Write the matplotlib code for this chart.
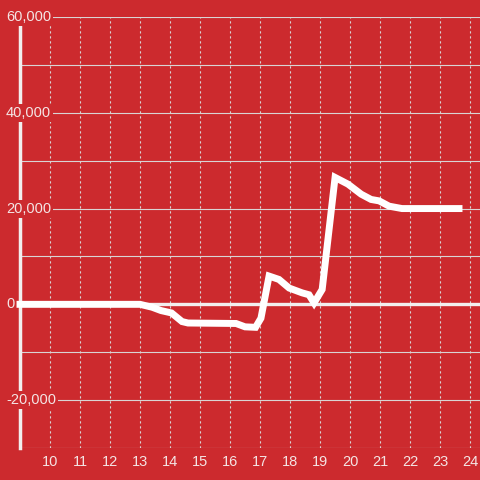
import matplotlib.pyplot as plt

# valeurs
hours = [9.0, 13.0, 13.4, 13.7, 14.05, 14.4, 14.6, 16.2, 16.5, 16.85, 17.03,
         17.3, 17.63, 17.97, 18.4, 18.63, 18.8, 19.07, 19.5, 19.93, 20.37,
         20.7, 20.97, 21.3, 21.73, 23.63]
values = [0, 0, -600, -1300, -1800, -3600, -3900, -4000, -4700, -4800, -2900,
          5900, 5200, 3400, 2400, 2000, 300, 3100, 26500, 25100, 23000,
          21900, 21600, 20500, 20000, 20000]

x_ticks = list(range(10, 25))
y_labels = [60000, 40000, 20000, 0, -20000]
y_grid = list(range(-30000, 60001, 10000))

bg = "#cc2a2e"
txt = "#f4e4e4"
grid = "#d9d4d4"

plt.rcParams["font.family"] = ["Liberation Sans", "DejaVu Sans"]

fig = plt.figure(figsize=(4.8, 4.8), dpi=100, facecolor=bg)
ax = fig.add_axes([20 / 480, 32 / 480, 460 / 480, 431 / 480])
ax.set_facecolor(bg)
ax.set_xlim(9, 24.33)
ax.set_ylim(-30000, 60000)

for v in y_grid:
    ax.axhline(v, color=grid, lw=0.8, zorder=1)
for v in x_ticks:
    ax.axvline(v, color=grid, lw=0.8, ls=(0, (2, 2.5)), zorder=1)
ax.axhline(0, color="#f2eeee", lw=2.4, zorder=2)

for s in ["top", "right", "bottom"]:
    ax.spines[s].set_visible(False)
ax.spines["left"].set_color("#f2eeee")
ax.spines["left"].set_linewidth(2.5)
ax.spines["left"].set_zorder(4)

ax.set_yticks([])
ax.set_xticks(x_ticks)
ax.set_xticklabels([str(t) for t in x_ticks])
ax.tick_params(axis="x", length=0, pad=5, colors=txt, labelsize=10.5)

tr = ax.get_yaxis_transform()
for v in y_labels:
    ax.text(-14 / 460, v, f"{v:,}", transform=tr, ha="left", va="center",
            color=txt, fontsize=10.5, zorder=5,
            bbox=dict(facecolor=bg, edgecolor="none", pad=1.5))

ax.plot(hours, values, color="white", lw=5, solid_joinstyle="miter",
        solid_capstyle="projecting", zorder=6, clip_on=False)

plt.savefig("out.png", dpi=100, facecolor=bg)
